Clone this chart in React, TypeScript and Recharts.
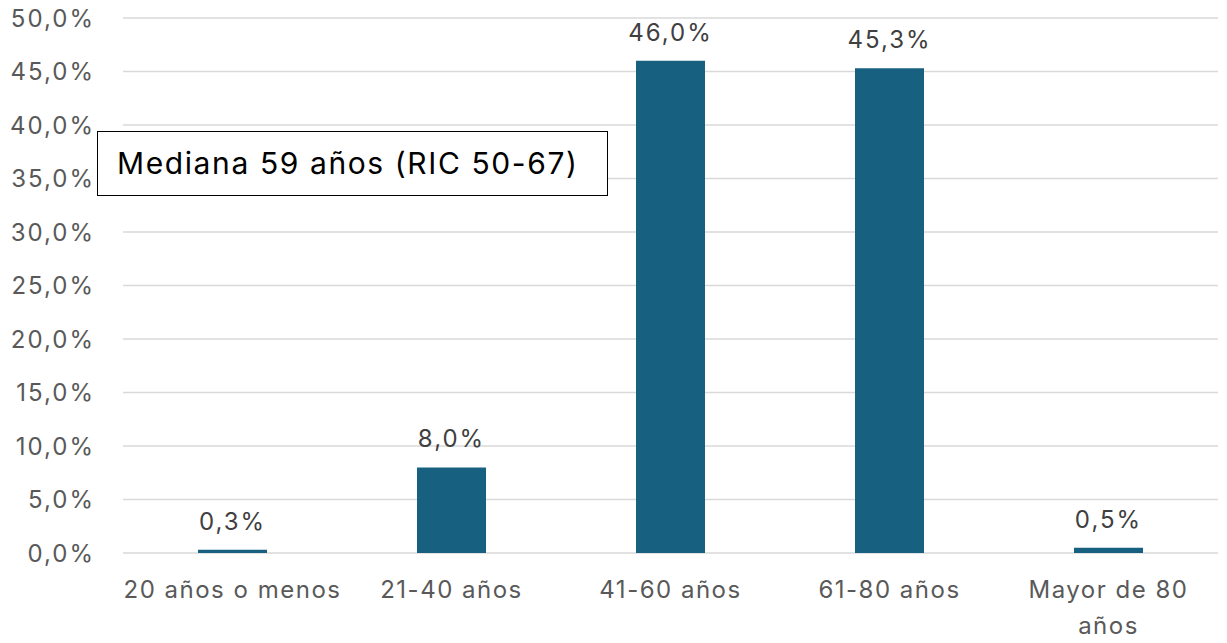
import { BarChart, Bar, XAxis, YAxis, CartesianGrid, LabelList } from 'recharts';

const categories = ['20 años o menos', '21-40 años', '41-60 años', '61-80 años', 'Mayor de 80 años'];
const shares = [0.3, 8.0, 46.0, 45.3, 0.5];
const yTicks = [0, 5, 10, 15, 20, 25, 30, 35, 40, 45, 50];
const note = 'Mediana 59 años (RIC 50-67)';

const data = categories.map((c, i) => ({ name: c, value: shares[i] }));

const FONT = 'Inter, "Open Sans", sans-serif';
const pct = (v: number) => `${v.toFixed(1).replace('.', ',')}%`;

// break long labels at the last space, like Excel does
function splitLabel(s: string): string[] {
  if (s.length <= 15) return [s];
  const i = s.lastIndexOf(' ');
  return [s.slice(0, i), s.slice(i + 1)];
}

function WrapTick(props: any) {
  const { x, y, payload } = props;
  const lines = splitLabel(String(payload.value));
  return (
    <text
      x={x}
      y={y}
      textAnchor="middle"
      fontSize={24}
      fontFamily={FONT}
      letterSpacing={1.5}
      fill="#595959"
    >
      {lines.map((l, i) => (
        <tspan key={i} x={x} dy={i === 0 ? '0.71em' : 36}>
          {l}
        </tspan>
      ))}
    </text>
  );
}

export default function App() {
  return (
    <div style={{ position: 'absolute', left: 0, top: 0, width: 1227, height: 643, background: '#fff' }}>
      <BarChart width={1227} height={643} data={data} margin={{ top: 18, right: 9, bottom: 0, left: 0 }}>
        <CartesianGrid vertical={false} stroke="#d9d9d9" strokeWidth={1.5} />
        <XAxis
          dataKey="name"
          axisLine={false}
          tickLine={false}
          tickSize={0}
          tickMargin={28}
          height={90}
          interval={0}
          tick={<WrapTick />}
        />
        <YAxis
          domain={[0, 50]}
          ticks={yTicks}
          axisLine={false}
          tickLine={false}
          tickSize={0}
          tickMargin={28}
          width={123}
          tickFormatter={pct}
          tick={{ fontSize: 24, fill: '#595959', fontFamily: FONT, letterSpacing: 2 }}
        />
        <Bar dataKey="value" fill="#17607f" barSize={69} isAnimationActive={false}>
          <LabelList
            dataKey="value"
            position="top"
            offset={20}
            formatter={(v: any) => pct(Number(v))}
            style={{ fontSize: 24, fill: '#404040', fontFamily: FONT, letterSpacing: 2 }}
          />
        </Bar>
      </BarChart>
      <div
        style={{
          position: 'absolute',
          left: 97,
          top: 131,
          width: 511,
          height: 65,
          boxSizing: 'border-box',
          border: '1.5px solid #000',
          background: '#fff',
          fontFamily: FONT,
          fontSize: 30,
          letterSpacing: 1.6,
          color: '#000',
          lineHeight: '62px',
          paddingLeft: 19,
          whiteSpace: 'nowrap',
        }}
      >
        {note}
      </div>
    </div>
  );
}
